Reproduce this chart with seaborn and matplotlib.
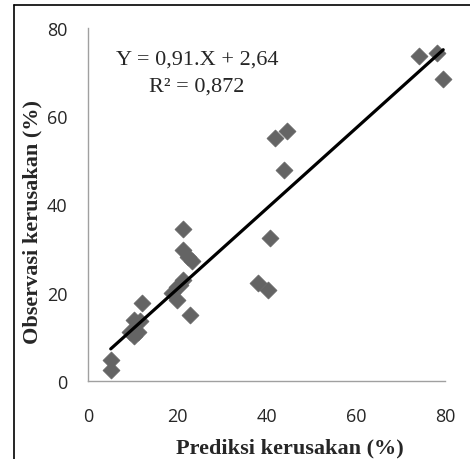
import matplotlib
matplotlib.use("Agg")
import matplotlib.pyplot as plt
from matplotlib.lines import Line2D
import seaborn as sns
import numpy as np
import pandas as pd

# Data
prediksi = [5.1, 5.2, 10.2, 9.4, 10.2, 11.3, 11.6, 12.0, 19.9, 18.8, 19.9, 21.4, 20.6,
            22.9, 21.2, 21.2, 22.5, 23.2, 38.2, 40.4, 40.8, 41.8, 44.7, 43.9,
            74.2, 78.1, 79.6]
observasi = [4.8, 2.6, 13.9, 11.2, 10.1, 11.2, 13.5, 17.6, 18.4, 19.9, 21.4, 23.0, 21.8,
             15.0, 34.5, 29.6, 28.2, 27.3, 22.2, 20.7, 32.4, 55.1, 56.7, 47.8,
             73.7, 74.3, 68.4]
slope, intercept = 0.91, 2.64
eq_lines = ["Y = 0,91.X + 2,64", "R² = 0,872"]
xticks = [0, 20, 40, 60, 80]
yticks = [0, 20, 40, 60, 80]

df = pd.DataFrame({"x": prediksi, "y": observasi})
xs = np.array([min(prediksi), max(prediksi)])
line_df = pd.DataFrame({"x": xs, "y": slope * xs + intercept})

sns.set_style("white")
plt.rcParams["font.family"] = ["Open Sans", "DejaVu Sans"]
fig = plt.figure(figsize=(4.7, 4.6), dpi=100)
ax = fig.add_axes([88/470, 1 - 382/460, (445-88)/470, (382-29)/460])

sns.scatterplot(data=df, x="x", y="y", ax=ax, marker="D", s=75,
                color="#646464", edgecolor="#646464", linewidth=0.5, zorder=2,
                clip_on=False)
sns.lineplot(data=line_df, x="x", y="y", ax=ax, color="black", linewidth=2.3, zorder=3)

ax.set_xlim(0, 80)
ax.set_ylim(0, 80)
ax.set_xticks(xticks)
ax.set_yticks(yticks)
for s in ["top", "right"]:
    ax.spines[s].set_visible(False)
for s in ["left", "bottom"]:
    ax.spines[s].set_color("#a0a0a0")
    ax.spines[s].set_linewidth(1.0)
ax.tick_params(axis="both", direction="out", length=6, width=1.0, color="#a0a0a0",
               labelsize=13, labelcolor="#262626")
ax.tick_params(axis="x", pad=13)
ax.tick_params(axis="y", pad=9)

serif = "Liberation Serif"
ax.set_xlabel("Prediksi kerusakan (%)", family=serif, fontweight="bold", fontsize=16,
              va="center")
ax.set_ylabel("Observasi kerusakan (%)", family=serif, fontweight="bold", fontsize=16,
              va="center")
ax.xaxis.set_label_coords((290 - 88) / 357, (382 - 448) / 353)
ax.yaxis.set_label_coords((32 - 88) / 357, (382 - 222) / 353)

fig.text(197/470, 1 - 60/460, eq_lines[0], family=serif, fontsize=16,
         ha="center", va="center")
fig.text(197/470, 1 - 87/460, eq_lines[1], family=serif, fontsize=16,
         ha="center", va="center")

# frame lines of the original figure
fig.add_artist(Line2D([14/470, 14/470], [0, 1 - 6/460], transform=fig.transFigure,
                      color="black", linewidth=1.2))
fig.add_artist(Line2D([14/470, 1], [1 - 6/460, 1 - 6/460], transform=fig.transFigure,
                      color="black", linewidth=1.2))

fig.savefig("out.png", dpi=100)
